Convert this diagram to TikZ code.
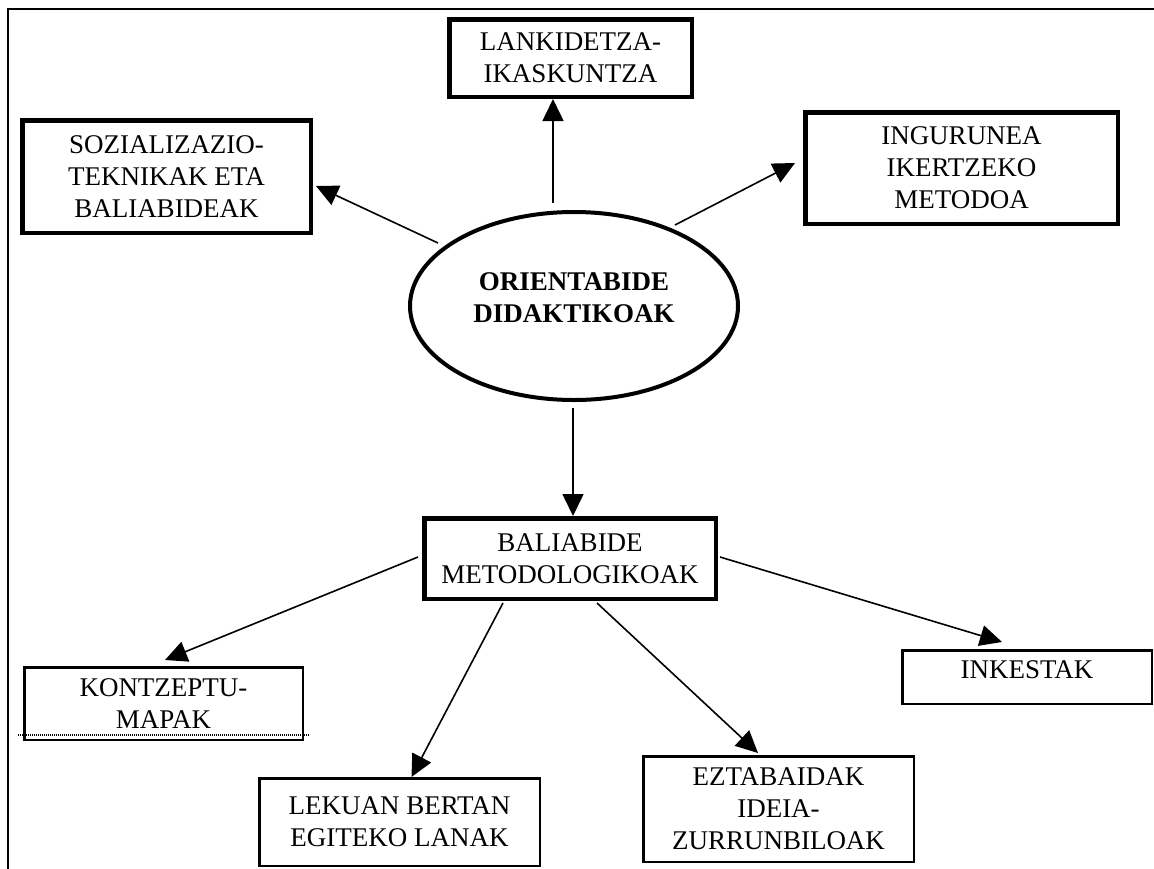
\documentclass[tikz,border=0pt]{standalone}
\usepackage{fontspec}
\setmainfont{Liberation Serif}
\usetikzlibrary{shapes.geometric,arrows.meta,calc}
\tikzset{
  txt/.style={font=\fontsize{27}{32}\selectfont, align=center},
  thickbox/.style={draw, line width=4.5pt, rectangle, inner sep=0pt, txt},
  thinbox/.style={draw, line width=2.5pt, rectangle, inner sep=0pt, txt},
  conn/.style={line width=1.6pt, -{Triangle[length=22pt,width=21pt]}},
  framebar/.style={line width=2.5pt},
}
\begin{document}
\begin{tikzpicture}[x=1pt,y=-1pt]
\useasboundingbox[fill=white] (0,0) rectangle (1154,868);
% frame (right and bottom sides outside the picture)
\draw[framebar] (1160,9) -- (8,9) -- (8,875);

\node[thickbox, minimum width=242.5pt, minimum height=77.5pt] (lank) at (570.5,58) {LANKIDETZA-\\IKASKUNTZA};
\node[thickbox, minimum width=288.5pt, minimum height=112.5pt] (soz) at (166.5,176.5) {SOZIALIZAZIO-\\TEKNIKAK ETA\\BALIABIDEAK};
\node[thickbox, minimum width=312.5pt, minimum height=111.5pt] (ing) at (961.5,168) {INGURUNEA\\IKERTZEKO\\METODOA};
\node[draw, ellipse, line width=4pt, inner sep=0pt, minimum width=328pt, minimum height=188pt] (ell) at (574,306) {};
\node[txt, font=\fontsize{27}{32}\selectfont\bfseries] (ellT) at (574,297.5) {ORIENTABIDE\\DIDAKTIKOAK};
\node[thickbox, minimum width=291.5pt, minimum height=80.5pt] (bal) at (570,558.5) {BALIABIDE\\METODOLOGIKOAK};
\node[thinbox, minimum width=278.5pt, minimum height=72.5pt] (kont) at (163.5,703.5) {KONTZEPTU-\\MAPAK};
\node[thinbox, minimum width=280.5pt, minimum height=87.5pt] (lek) at (399.5,822) {LEKUAN BERTAN\\EGITEKO LANAK};
\node[thinbox, minimum width=270.5pt, minimum height=105.5pt] (ezt) at (778.5,809) {EZTABAIDAK\\IDEIA-\\ZURRUNBILOAK};
\node[thinbox, minimum width=249.5pt, minimum height=53.5pt, text depth=14pt] (ink) at (1027,677) {INKESTAK};

% dotted line across the bottom of KONTZEPTU-MAPAK
\draw[line width=1.2pt, dash pattern=on 1pt off 1pt] ($(kont.south west)+(-5,-6)$) -- ($(kont.south east)+(5,-6)$);

% connectors
\draw[conn] ($(ell.north)+(-21,-7)$) -- ($(lank.south)+(-17.5,0)$);
\draw[conn] ($(ell.center)+(-136,-63)$) -- ($(soz.east)+(3,9.5)$);
\draw[conn] ($(ell.center)+(101,-81)$) -- ($(ing.west)+(-8,-5)$);
\draw[conn] ($(ell.south)+(-1,6)$) -- ($(bal.north)+(3,0)$);
\draw[conn] ($(bal.west)+(-4,-1.5)$) -- ($(kont.north)+(1.5,-6)$);
\draw[conn] ($(bal.south)+(-67,2)$) -- ($(lek.north)+(12,0)$);
\draw[conn] ($(bal.south)+(27,2)$) -- ($(ezt.north)+(-20.5,-2)$);
\draw[conn] ($(bal.east)+(2,-1.5)$) -- ($(ink.north)+(-25,-7)$);
\end{tikzpicture}
\end{document}
